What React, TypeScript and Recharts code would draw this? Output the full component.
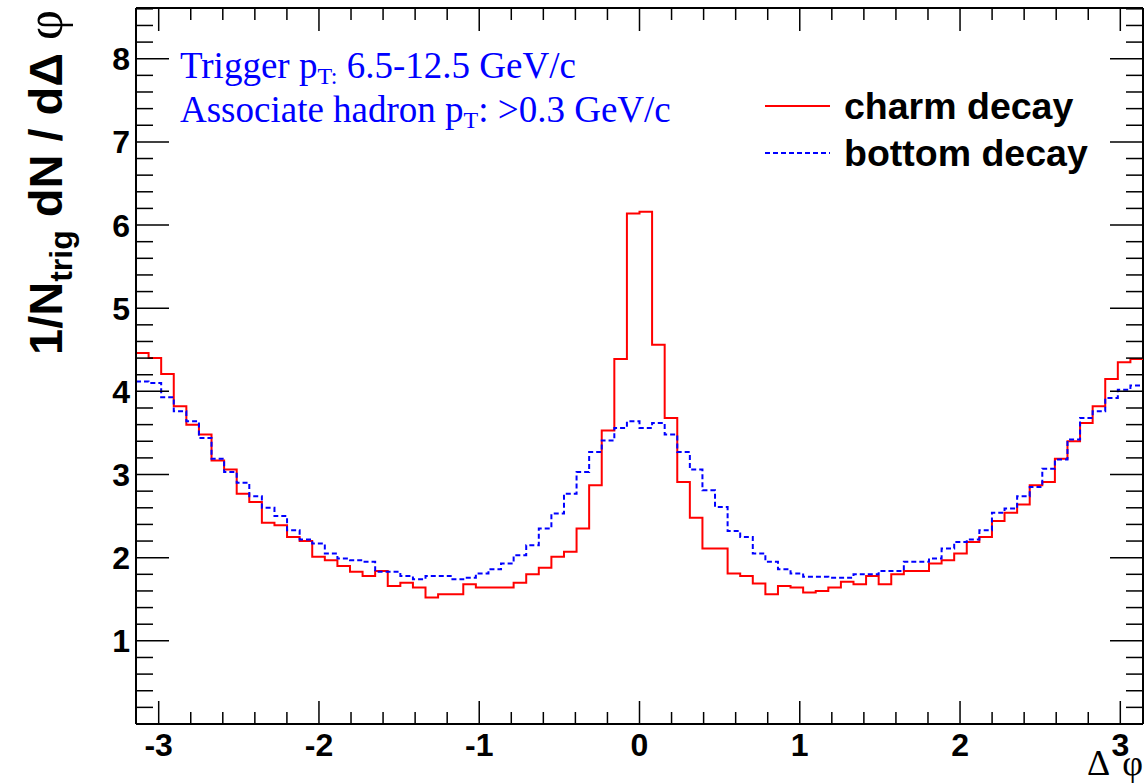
import React from 'react';
import { ComposedChart, Line, XAxis, YAxis, Legend, ReferenceLine } from 'recharts';

const PI = Math.PI;

// 80 bins from -pi to pi
const charmDecay = [
  4.46, 4.40, 4.21, 3.82, 3.60, 3.48, 3.17, 3.06, 2.77, 2.67,
  2.42, 2.39, 2.25, 2.20, 2.01, 1.97, 1.90, 1.83, 1.78, 1.84,
  1.66, 1.70, 1.64, 1.52, 1.56, 1.56, 1.68, 1.64, 1.64, 1.64,
  1.70, 1.80, 1.88, 2.01, 2.07, 2.35, 2.87, 3.53, 4.39, 6.14,
  6.16, 4.56, 3.68, 2.91, 2.48, 2.11, 2.11, 1.81, 1.78, 1.69,
  1.56, 1.66, 1.64, 1.58, 1.60, 1.64, 1.71, 1.68, 1.78, 1.68,
  1.80, 1.84, 1.84, 1.93, 1.97, 2.05, 2.19, 2.25, 2.44, 2.54,
  2.64, 2.87, 2.91, 3.19, 3.40, 3.62, 3.82, 4.15, 4.35, 4.39,
];
const bottomDecay = [
  4.12, 4.10, 3.93, 3.76, 3.64, 3.44, 3.19, 3.03, 2.90, 2.74,
  2.60, 2.50, 2.33, 2.22, 2.17, 2.05, 1.99, 1.97, 1.95, 1.83,
  1.83, 1.78, 1.74, 1.78, 1.78, 1.74, 1.76, 1.81, 1.86, 1.93,
  2.03, 2.15, 2.35, 2.53, 2.77, 3.03, 3.27, 3.41, 3.56, 3.64,
  3.56, 3.62, 3.48, 3.27, 3.06, 2.81, 2.61, 2.32, 2.25, 2.05,
  1.95, 1.86, 1.81, 1.77, 1.77, 1.76, 1.76, 1.80, 1.80, 1.84,
  1.84, 1.95, 1.95, 1.99, 2.11, 2.19, 2.22, 2.33, 2.54, 2.59,
  2.74, 2.85, 3.07, 3.18, 3.42, 3.68, 3.76, 3.92, 4.02, 4.07,
];
const seriesNames = ['charm decay', 'bottom decay'];
const xMajorLabels = [-3, -2, -1, 0, 1, 2, 3];
const yMajorLabels = [1, 2, 3, 4, 5, 6, 7, 8];
const Y_MAX = 8.61;

// bin edges for a step outline
const binW = (2 * PI) / charmDecay.length;
const last = charmDecay.length - 1;
const data = charmDecay.map((c, i) => ({ x: -PI + i * binW, charm: c, bottom: bottomDecay[i] }));
data.push({ x: PI, charm: charmDecay[last], bottom: bottomDecay[last] });

// minor ticks every 0.2
const xTicks = Array.from({ length: 31 }, (_, i) => Math.round((xMajorLabels[0] + i * 0.2) * 10) / 10);
const yTicks = Array.from({ length: 43 }, (_, i) => Math.round((i + 1) * 2) / 10);
const isMajor = (v: number) => Math.abs(v - Math.round(v)) < 1e-6;

const CHART_W = 1144;
const CHART_H = 784;
const MARGIN = { top: 8, right: 1, bottom: 0, left: 0 };
const Y_AXIS_W = 136;
const X_AXIS_H = 60;
const PLOT_W = CHART_W - MARGIN.right - MARGIN.left - Y_AXIS_W;
const PLOT_H = CHART_H - MARGIN.top - MARGIN.bottom - X_AXIS_H;

const SANS = '"Liberation Sans", Arial, sans-serif';
const SERIF = '"Liberation Serif", "Times New Roman", serif';
const TICK = '#000';

// ticks point into the frame, mirrored on the opposite side like ROOT
const LeftTick = (p: any) => {
  const v = p.payload.value;
  const major = isMajor(v);
  const len = major ? 33 : 17;
  return (
    <g>
      <line x1={p.x} y1={p.y} x2={p.x + len} y2={p.y} stroke={TICK} strokeWidth={1.5} />
      <line x1={p.x + PLOT_W} y1={p.y} x2={p.x + PLOT_W - len} y2={p.y} stroke={TICK} strokeWidth={1.5} />
      {major && yMajorLabels.includes(Math.round(v)) && (
        <text x={p.x - 6} y={p.y} dy="0.36em" textAnchor="end" fontFamily={SANS} fontWeight="bold" fontSize={32} fill="#000">
          {Math.round(v)}
        </text>
      )}
    </g>
  );
};
const BottomTick = (p: any) => {
  const v = p.payload.value;
  const major = isMajor(v);
  const len = major ? 23 : 12;
  return (
    <g>
      <line x1={p.x} y1={p.y} x2={p.x} y2={p.y - len} stroke={TICK} strokeWidth={1.5} />
      <line x1={p.x} y1={p.y - PLOT_H} x2={p.x} y2={p.y - PLOT_H + len} stroke={TICK} strokeWidth={1.5} />
      {major && xMajorLabels.includes(Math.round(v)) && (
        <text x={p.x} y={p.y + 32} textAnchor="middle" fontFamily={SANS} fontWeight="bold" fontSize={32} fill="#000">
          {Math.round(v)}
        </text>
      )}
    </g>
  );
};

const LegendBox = () => (
  <div style={{ fontFamily: SANS, fontWeight: 'bold', fontSize: 37.5, color: '#000' }}>
    {seriesNames.map((n, i) => (
      <div key={n} style={{ display: 'flex', alignItems: 'center', height: 47 }}>
        <svg width={70} height={10} style={{ marginRight: 12 }}>
          <line x1={3} y1={5} x2={68} y2={5} stroke={i === 0 ? '#ff0000' : '#0000ff'} strokeWidth={2}
            strokeDasharray={i === 0 ? undefined : '5 3'} />
        </svg>
        <span style={{ lineHeight: '40px' }}>{n}</span>
      </div>
    ))}
  </div>
);

export default function App() {
  return (
    <div style={{ position: 'absolute', left: 0, top: 0, width: CHART_W, height: CHART_H, background: '#fff' }}>
      <ComposedChart width={CHART_W} height={CHART_H} data={data} margin={MARGIN}>
        <XAxis dataKey="x" type="number" domain={[-PI, PI]} allowDataOverflow ticks={xTicks} interval={0}
          height={X_AXIS_H} tickSize={0} tickMargin={0} tickLine={false} tick={BottomTick}
          axisLine={{ stroke: '#000', strokeWidth: 2 }} />
        <YAxis type="number" domain={[0, Y_MAX]} allowDataOverflow ticks={yTicks} interval={0} width={Y_AXIS_W}
          tickSize={0} tickMargin={0} tickLine={false} tick={LeftTick} axisLine={{ stroke: '#000', strokeWidth: 2 }} />
        <ReferenceLine y={Y_MAX} stroke="#000" strokeWidth={2} />
        <ReferenceLine x={PI} stroke="#000" strokeWidth={2} />
        <Legend layout="vertical" align="center" verticalAlign="middle" content={LegendBox}
          wrapperStyle={{ left: 762, top: 82, width: 380, bottom: 'auto', right: 'auto' }} />
        <Line type="stepAfter" dataKey="charm" name={seriesNames[0]} stroke="#ff0000" strokeWidth={2}
          dot={false} activeDot={false} isAnimationActive={false} />
        <Line type="stepAfter" dataKey="bottom" name={seriesNames[1]} stroke="#0000ff" strokeWidth={2}
          strokeDasharray="5 3" dot={false} activeDot={false} isAnimationActive={false} />
      </ComposedChart>
      <svg width={CHART_W} height={CHART_H} style={{ position: 'absolute', left: 0, top: 0, pointerEvents: 'none' }}>
        <text fill="#0000ff" fontFamily={SERIF} fontSize={37}>
          <tspan x={180} y={78}>Trigger p</tspan>
          <tspan dy={6} fontSize={24}>T:</tspan>
          <tspan dy={-6}> 6.5-12.5 GeV/c</tspan>
        </text>
        <text fill="#0000ff" fontFamily={SERIF} fontSize={37}>
          <tspan x={180} y={122}>Associate hadron p</tspan>
          <tspan dy={6} fontSize={24}>T</tspan>
          <tspan dy={-6}>: &gt;0.3 GeV/c</tspan>
        </text>
        <text transform="translate(62,355) rotate(-90)" fill="#000" fontFamily={SANS} fontWeight="bold" fontSize={47}>
          <tspan>1/N</tspan>
          <tspan dy={10} fontSize={32}>trig</tspan>
          <tspan dy={-10}> dN / dΔ </tspan>
          <tspan fontFamily={SERIF} fontWeight="normal" fontSize={52}>φ</tspan>
        </text>
        <text x={1143} y={775} textAnchor="end" fill="#000" fontFamily={SERIF} fontSize={36}>
          Δ<tspan dx={12}>φ</tspan>
        </text>
      </svg>
    </div>
  );
}
